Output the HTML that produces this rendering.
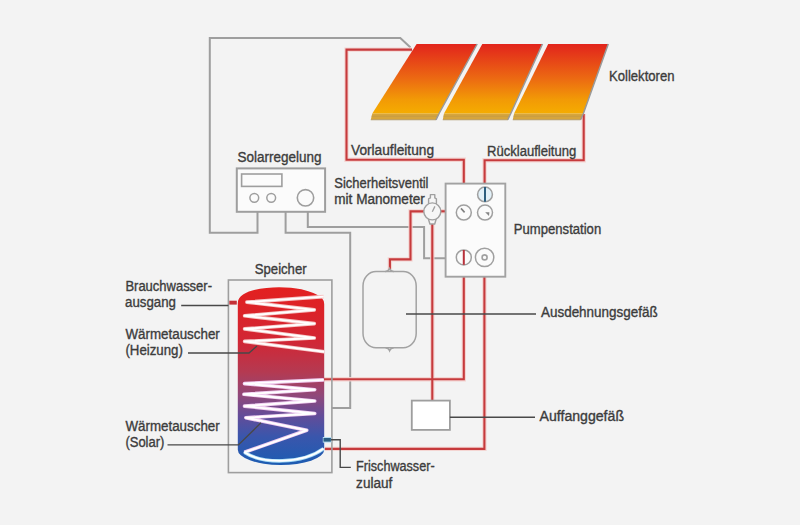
<!DOCTYPE html>
<html><head><meta charset="utf-8">
<style>
html,body{margin:0;padding:0;background:#f3f3f3;}
svg{display:block;}
text{font-family:"Liberation Sans",sans-serif;font-size:14px;fill:#3c3c3c;stroke:#3c3c3c;stroke-width:0.35px;}
</style></head>
<body>
<svg width="800" height="525" viewBox="0 0 800 525">
<defs>
<linearGradient id="pg" x1="0" y1="0" x2="0" y2="1">
<stop offset="0" stop-color="#e2241c"/>
<stop offset="0.5" stop-color="#ec6a12"/>
<stop offset="0.8" stop-color="#f29a06"/>
<stop offset="1" stop-color="#f5ac00"/>
</linearGradient>
<linearGradient id="tg" x1="0" y1="287" x2="0" y2="465" gradientUnits="userSpaceOnUse">
<stop offset="0" stop-color="#e3201f"/>
<stop offset="0.3" stop-color="#d22634"/>
<stop offset="0.48" stop-color="#b43a52"/>
<stop offset="0.61" stop-color="#90487a"/>
<stop offset="0.72" stop-color="#644c98"/>
<stop offset="0.84" stop-color="#3a56ac"/>
<stop offset="1" stop-color="#1c5cb2"/>
</linearGradient>
</defs>

<!-- gray control lines -->
<g fill="none" stroke="#9e9e9e" stroke-width="2">
<polyline points="257.5,211.8 257.5,232.8 209.8,232.8 209.8,38 400.3,38 410.5,47.5"/>
<polyline points="285.6,211.8 285.6,232.8 350.2,232.8 350.2,408.1 331.8,408.1"/>
<polyline points="307.8,211.8 307.8,227 424.1,227 424.1,258.3 446,258.3"/>
</g>

<!-- red pipes -->
<g fill="none" stroke="#f5d2cf" stroke-width="4.4" opacity="0.9">
<polyline points="412,49.6 346.5,49.6 346.5,159.7 463.8,159.7 463.8,183.5"/>
<polyline points="583.7,114 583.7,160.2 484.6,160.2 484.6,183.5"/>
<polyline points="463.8,276.7 463.8,379.2 323.4,379.2"/>
<polyline points="484.4,276.7 484.4,448.9 324.9,448.9"/>
<polyline points="424,211.4 410.5,211.4 410.5,259.4 389.9,259.4 389.9,269.5"/>
<line x1="440.5" y1="211.3" x2="446" y2="211.3"/>
<line x1="432.3" y1="224" x2="432.3" y2="400.6"/>
</g>
<g fill="none" stroke="#c63a3c" stroke-width="2.1">
<polyline points="412,49.6 346.5,49.6 346.5,159.7 463.8,159.7 463.8,183.5"/>
<polyline points="583.7,114 583.7,160.2 484.6,160.2 484.6,183.5"/>
<polyline points="463.8,276.7 463.8,379.2 323.4,379.2"/>
<polyline points="484.4,276.7 484.4,448.9 324.9,448.9"/>
<polyline points="424,211.4 410.5,211.4 410.5,259.4 389.9,259.4 389.9,269.5"/>
<line x1="440.5" y1="211.3" x2="446" y2="211.3"/>
<line x1="432.3" y1="224" x2="432.3" y2="400.6"/>
</g>

<!-- collectors -->
<g>
<polygon points="372.3,113.5 439.1,113.5 436,119.8 370.8,119.8" fill="#d6a53c"/>
<polygon points="444,113.5 510.8,113.5 507.8,119.8 442.8,119.8" fill="#d6a53c"/>
<polygon points="514.1,113.5 583.4,113.5 580.6,119.8 512.8,119.8" fill="#d6a53c"/>
<g stroke="#c09848" stroke-width="0.7" fill="none">
<line x1="371.5" y1="116.2" x2="437.5" y2="116.2"/>
<line x1="443.5" y1="116.2" x2="509.5" y2="116.2"/>
<line x1="513.5" y1="116.2" x2="582" y2="116.2"/>
</g>
<polygon points="416.6,44 477.2,44 439.1,113.5 372.3,113.5" fill="url(#pg)"/>
<polygon points="482.3,44 542.5,44 510.8,113.5 444,113.5" fill="url(#pg)"/>
<polygon points="548.2,44 608.3,44 583.4,113.5 514.1,113.5" fill="url(#pg)"/>
<g stroke="#9a9a9a" stroke-width="1.5" fill="none">
<polyline points="477.2,44 439.1,113.5 436,119.8"/>
<polyline points="542.5,44 510.8,113.5 507.8,119.8"/>
<polyline points="608.3,44 583.4,113.5 580.6,119.8"/>
</g>
<g stroke="#a89060" stroke-width="0.9" fill="none" opacity="0.8">
<line x1="370.8" y1="119.8" x2="436" y2="119.8"/>
<line x1="442.8" y1="119.8" x2="508" y2="119.8"/>
<line x1="512.8" y1="119.8" x2="580.6" y2="119.8"/>
</g>
</g>

<!-- controller -->
<g fill="#fbfbfb" stroke="#9e9e9e" stroke-width="2">
<rect x="236.8" y="168.4" width="88.3" height="43.4"/>
<rect x="241.6" y="174" width="40.3" height="12.4" fill="none" stroke-width="1.6"/>
<circle cx="254.3" cy="197.8" r="4.4" fill="none" stroke-width="1.5"/>
<circle cx="271.2" cy="197.8" r="4.4" fill="none" stroke-width="1.5"/>
<circle cx="305.5" cy="197.8" r="8.2" fill="none" stroke-width="1.6"/>
</g>

<!-- pump station -->
<rect x="445.6" y="183.6" width="59.7" height="93.1" fill="#fbfbfb" stroke="#a2a2a2" stroke-width="1.9"/>
<g stroke="#a0a0a0" stroke-width="1.5">
<circle cx="485" cy="194.4" r="7.4" fill="#e2f1f9"/>
<circle cx="463.8" cy="212.6" r="7.5" fill="none"/>
<circle cx="485" cy="212.6" r="7.5" fill="none"/>
<circle cx="463.8" cy="257.4" r="7.5" fill="none"/>
<circle cx="484.6" cy="257.4" r="9.2" fill="none"/>
<circle cx="484.6" cy="257.4" r="2.5" fill="none" stroke-width="1.6"/>
</g>
<line x1="485" y1="187" x2="485" y2="201.8" stroke="#2c5f80" stroke-width="2"/>
<line x1="463.8" y1="250" x2="463.8" y2="264.8" stroke="#b8303a" stroke-width="2"/>
<line x1="461" y1="208.4" x2="464.6" y2="212.4" stroke="#808080" stroke-width="1.6"/>
<polygon points="485.2,212.3 489.4,212.2 489,216" fill="#858585"/>

<!-- manometer -->
<g fill="#f6f6f6" stroke="#a0a0a0" stroke-width="1.4" stroke-linejoin="round">
<path d="M428.6,204 V198.8 L430.4,197.9 V194.6 H434.8 V197.9 L436.4,198.8 V204"/>
<path d="M428.4,219 L429.9,224 H434.7 L436.2,219"/>
<circle cx="432.3" cy="211.4" r="8.5"/>
</g>
<line x1="432.3" y1="211.8" x2="434.9" y2="206.4" stroke="#a0a0a0" stroke-width="1.3"/>

<!-- expansion vessel -->
<rect x="363" y="271.5" width="53.2" height="76.3" rx="13" ry="14.5" fill="#f3f3f3" stroke="#a2a2a2" stroke-width="1.5"/>
<path d="M385,271.6 Q388.5,271.3 389.5,268.5 Q390.5,271.3 394,271.6" fill="none" stroke="#a2a2a2" stroke-width="1.4"/>
<path d="M385.5,347.7 Q388.5,348 389.6,350.8 Q390.7,348 393.7,347.7" fill="none" stroke="#a2a2a2" stroke-width="1.4"/>

<!-- collecting vessel -->
<rect x="411.8" y="400.6" width="38.1" height="29.3" fill="#ffffff" stroke="#9e9e9e" stroke-width="1.8"/>

<!-- storage tank -->
<rect x="228.4" y="280" width="103.5" height="192.6" fill="none" stroke="#9e9e9e" stroke-width="1.6"/>
<path d="M237.8,303 C237.8,291 262,287.3 279,287.3 C296,287.3 309,290.5 316.5,294.5 Q324.2,297.5 324.2,304 L324.2,450 A43.2,15.2 0 0 1 237.8,449.5 Z" fill="url(#tg)"/>
<rect x="229.3" y="300.7" width="7.5" height="3.9" fill="#c43036"/>
<rect x="322.8" y="437" width="8.6" height="5.6" fill="#b6dcf2"/><rect x="323.5" y="438" width="7.4" height="3.6" fill="#2a5f82"/>

<!-- coils -->
<g fill="none" stroke-linejoin="round" stroke-linecap="butt">
<polyline points="323.6,296.6 246.9,302.1 314.3,309.9 244.6,315.8 314.3,323.6 244.6,328.9 314.3,338 244.6,341.4 324.2,351.7" stroke="#f6c6c6" stroke-width="3.6"/>
<polyline points="323.6,296.6 246.9,302.1 314.3,309.9 244.6,315.8 314.3,323.6 244.6,328.9 314.3,338 244.6,341.4 324.2,351.7" stroke="#ffffff" stroke-width="1.9"/>
<path d="M323.8,379.9 L244.5,383.6 L314.7,389.7 L243.9,394.3 L314.7,401 L244.5,406.1 L314.7,413.5 L245.8,417.7 L306.7,430.3 L244.4,452.3" stroke="#f0cdf0" stroke-width="3.6"/>
<path d="M244.4,452.3 C262,464 302,464.5 323.6,448.6" stroke="#a6dcf6" stroke-width="3.6"/>
<path d="M323.8,379.9 L244.5,383.6 L314.7,389.7 L243.9,394.3 L314.7,401 L244.5,406.1 L314.7,413.5 L245.8,417.7 L306.7,430.3 L244.4,452.3 C262,464 302,464.5 323.6,448.6" stroke="#ffffff" stroke-width="1.9"/>
</g>

<!-- leaders -->
<g fill="none" stroke="#484848" stroke-width="1.4">
<line x1="181.2" y1="305.5" x2="228.4" y2="305.5"/>
<polyline points="188,353 249,353 257,346"/>
<polyline points="167.5,444.9 238.4,444.9 261,422.8"/>
<polyline points="331,439.8 340.2,439.8 340.2,467.4 350.8,467.4"/>
<line x1="406" y1="314" x2="536" y2="314"/>
<line x1="449.9" y1="417.3" x2="535" y2="417.3"/>
</g>

<!-- labels -->
<text x="609" y="80.7" textLength="65.5" lengthAdjust="spacingAndGlyphs">Kollektoren</text>
<text x="351" y="155" textLength="83" lengthAdjust="spacingAndGlyphs">Vorlaufleitung</text>
<text x="487" y="156" textLength="89.3" lengthAdjust="spacingAndGlyphs">Rücklaufleitung</text>
<text x="237.6" y="161.9" textLength="84" lengthAdjust="spacingAndGlyphs">Solarregelung</text>
<text x="334.3" y="187.5" textLength="94.2" lengthAdjust="spacingAndGlyphs">Sicherheitsventil</text>
<text x="334.3" y="204.3" textLength="90.4" lengthAdjust="spacingAndGlyphs">mit Manometer</text>
<text x="513.8" y="234.3" textLength="87.4" lengthAdjust="spacingAndGlyphs">Pumpenstation</text>
<text x="254.8" y="273.7" textLength="51.8" lengthAdjust="spacingAndGlyphs">Speicher</text>
<text x="125.4" y="291.4" textLength="86.6" lengthAdjust="spacingAndGlyphs">Brauchwasser-</text>
<text x="125.1" y="306.9" textLength="50.9" lengthAdjust="spacingAndGlyphs">ausgang</text>
<text x="125.4" y="338.6" textLength="94.4" lengthAdjust="spacingAndGlyphs">Wärmetauscher</text>
<text x="125.4" y="354.9" textLength="57.5" lengthAdjust="spacingAndGlyphs">(Heizung)</text>
<text x="125.4" y="430.9" textLength="94.3" lengthAdjust="spacingAndGlyphs">Wärmetauscher</text>
<text x="125.4" y="447.1" textLength="39" lengthAdjust="spacingAndGlyphs">(Solar)</text>
<text x="541" y="317.4" textLength="116.6" lengthAdjust="spacingAndGlyphs">Ausdehnungsgefäß</text>
<text x="539.6" y="420.6" textLength="84.4" lengthAdjust="spacingAndGlyphs">Auffanggefäß</text>
<text x="356.1" y="470.6" textLength="78.5" lengthAdjust="spacingAndGlyphs">Frischwasser-</text>
<text x="356.1" y="487.7" textLength="36.2" lengthAdjust="spacingAndGlyphs">zulauf</text>
</svg>
</body></html>
